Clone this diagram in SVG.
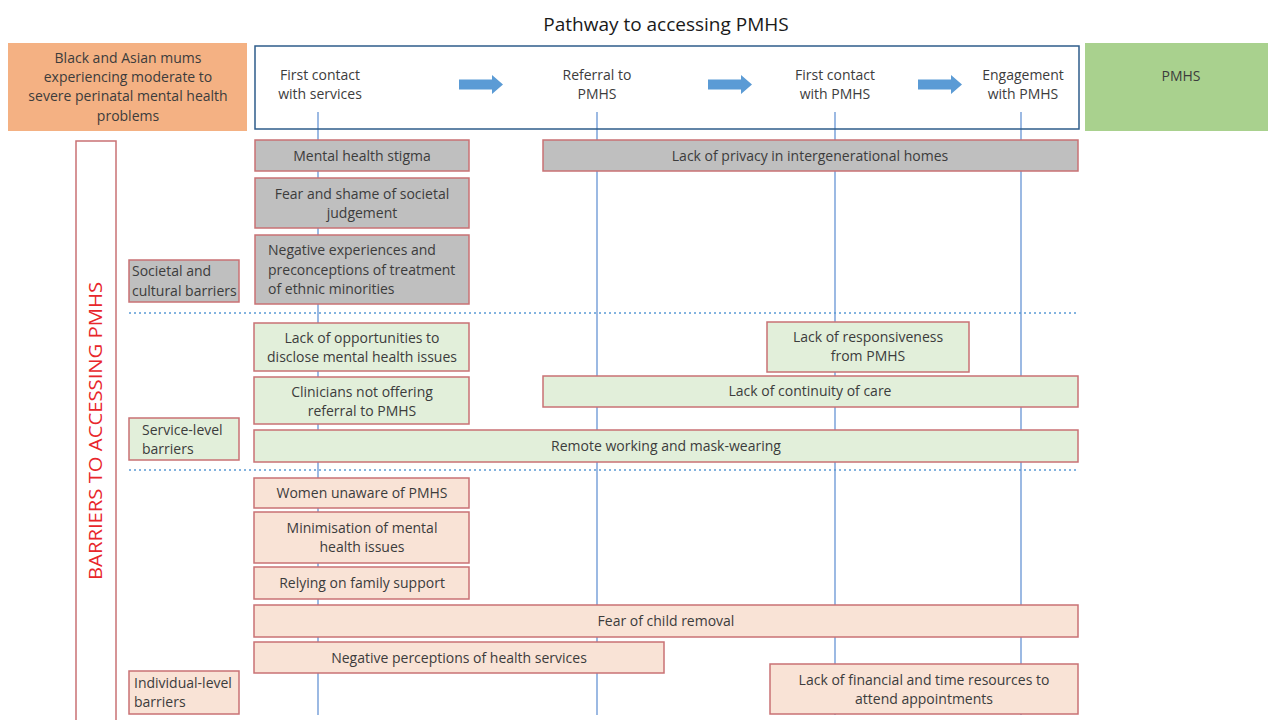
<svg xmlns="http://www.w3.org/2000/svg" width="1268" height="720" viewBox="0 0 1268 720">
<defs>
<style>
text{font-family:"Open Sans","Noto Sans","Liberation Sans",sans-serif;font-size:14px;fill:#3c3c3c}
.c{text-anchor:middle}
.box{stroke:#C97274;stroke-width:1.5}
.g{fill:#BFBFBF}
.gr{fill:#E2EFDA}
.p{fill:#F9E3D6}
.vl{stroke:#5A8BD0;stroke-width:1.2}
.dot{stroke:#5B9BD5;stroke-width:1.5;stroke-dasharray:2 3}
.arr{fill:#5B9BD5}
</style>
</defs>
<rect width="1268" height="720" fill="#fff"/>
<text x="666" y="31" class="c" style="font-size:19px;fill:#1a1a1a">Pathway to accessing PMHS</text>

<g id="connectors">
<line class="vl" x1="318" y1="112" x2="318" y2="715"/>
<line class="vl" x1="597" y1="112" x2="597" y2="715"/>
<line class="vl" x1="835" y1="112" x2="835" y2="715"/>
<line class="vl" x1="1021" y1="112" x2="1021" y2="715"/>
<line class="dot" x1="129" y1="313" x2="1079" y2="313"/>
<line class="dot" x1="129" y1="470" x2="1079" y2="470"/>
<polygon class="arr" points="459,79.5 492,79.5 492,75 503,84.5 492,94 492,89.5 459,89.5"/>
<polygon class="arr" points="708,79.5 741,79.5 741,75 752,84.5 741,94 741,89.5 708,89.5"/>
<polygon class="arr" points="918,79.5 951,79.5 951,75 962,84.5 951,94 951,89.5 918,89.5"/>
</g>

<g id="population">
<rect x="8" y="43" width="239" height="88" fill="#F4B183"/>
<text x="128" y="63" class="c">Black and Asian mums</text>
<text x="128" y="82" class="c">experiencing moderate to</text>
<text x="128" y="101" class="c">severe perinatal mental health</text>
<text x="128" y="121" class="c">problems</text>
</g>

<g id="pathway">
<rect x="255" y="46" width="824" height="83" fill="none" stroke="#2E5C8A" stroke-width="1.5"/>
</g>
<g id="step1"><text x="320" y="80" class="c">First contact</text><text x="320" y="99" class="c">with services</text></g>
<g id="step2"><text x="597" y="80" class="c">Referral to</text><text x="597" y="99" class="c">PMHS</text></g>
<g id="step3"><text x="835" y="80" class="c">First contact</text><text x="835" y="99" class="c">with PMHS</text></g>
<g id="step4"><text x="1023" y="80" class="c">Engagement</text><text x="1023" y="99" class="c">with PMHS</text></g>

<g id="pmhs">
<rect x="1085" y="43" width="183" height="88" fill="#A9D18E"/>
<text x="1181" y="81" class="c">PMHS</text>
</g>

<g id="barriers">
<rect x="76" y="141" width="40" height="590" fill="#fff" stroke="#C97274" stroke-width="1.5"/>
<text transform="translate(102,431) rotate(-90)" class="c" style="font-size:18px;fill:#E8262B" textLength="298" lengthAdjust="spacingAndGlyphs">BARRIERS TO ACCESSING PMHS</text>
</g>

<g id="cat-societal"><rect class="box g" x="129" y="260" width="110" height="42"/><text x="132" y="276">Societal and</text><text x="132" y="296">cultural barriers</text></g>
<g id="cat-service"><rect class="box gr" x="129" y="418" width="110" height="42"/><text x="142" y="435">Service-level</text><text x="142" y="454">barriers</text></g>
<g id="cat-individual"><rect class="box p" x="129" y="671" width="110" height="43"/><text x="134" y="688">Individual-level</text><text x="134" y="707">barriers</text></g>

<g id="b1"><rect class="box g" x="255" y="140" width="214" height="31"/><text x="362" y="161" class="c">Mental health stigma</text></g>
<g id="b2"><rect class="box g" x="255" y="178" width="214" height="50"/><text x="362" y="199" class="c">Fear and shame of societal</text><text x="362" y="218" class="c">judgement</text></g>
<g id="b3"><rect class="box g" x="255" y="235" width="214" height="69"/><text x="268" y="255">Negative experiences and</text><text x="268" y="275">preconceptions of treatment</text><text x="268" y="294">of ethnic minorities</text></g>
<g id="b4"><rect class="box g" x="543" y="140" width="535" height="31"/><text x="810" y="161" class="c">Lack of privacy in intergenerational homes</text></g>

<g id="s1"><rect class="box gr" x="254" y="323" width="215" height="48"/><text x="362" y="343" class="c">Lack of opportunities to</text><text x="362" y="362" class="c">disclose mental health issues</text></g>
<g id="s2"><rect class="box gr" x="254" y="377" width="215" height="47"/><text x="362" y="397" class="c">Clinicians not offering</text><text x="362" y="416" class="c">referral to PMHS</text></g>
<g id="s3"><rect class="box gr" x="767" y="322" width="202" height="50"/><text x="868" y="342" class="c">Lack of responsiveness</text><text x="868" y="361" class="c">from PMHS</text></g>
<g id="s4"><rect class="box gr" x="543" y="376" width="535" height="31"/><text x="810" y="396" class="c">Lack of continuity of care</text></g>
<g id="s5"><rect class="box gr" x="254" y="430" width="824" height="32"/><text x="666" y="451" class="c">Remote working and mask-wearing</text></g>

<g id="i1"><rect class="box p" x="254" y="478" width="215" height="30"/><text x="362" y="498" class="c">Women unaware of PMHS</text></g>
<g id="i2"><rect class="box p" x="254" y="512" width="215" height="51"/><text x="362" y="533" class="c">Minimisation of mental</text><text x="362" y="552" class="c">health issues</text></g>
<g id="i3"><rect class="box p" x="254" y="567" width="215" height="32"/><text x="362" y="588" class="c">Relying on family support</text></g>
<g id="i4"><rect class="box p" x="254" y="605" width="824" height="32"/><text x="666" y="626" class="c">Fear of child removal</text></g>
<g id="i5"><rect class="box p" x="254" y="642" width="410" height="31"/><text x="459" y="663" class="c">Negative perceptions of health services</text></g>
<g id="i6"><rect class="box p" x="770" y="664" width="308" height="50"/><text x="924" y="685" class="c">Lack of financial and time resources to</text><text x="924" y="704" class="c">attend appointments</text></g>
</svg>
